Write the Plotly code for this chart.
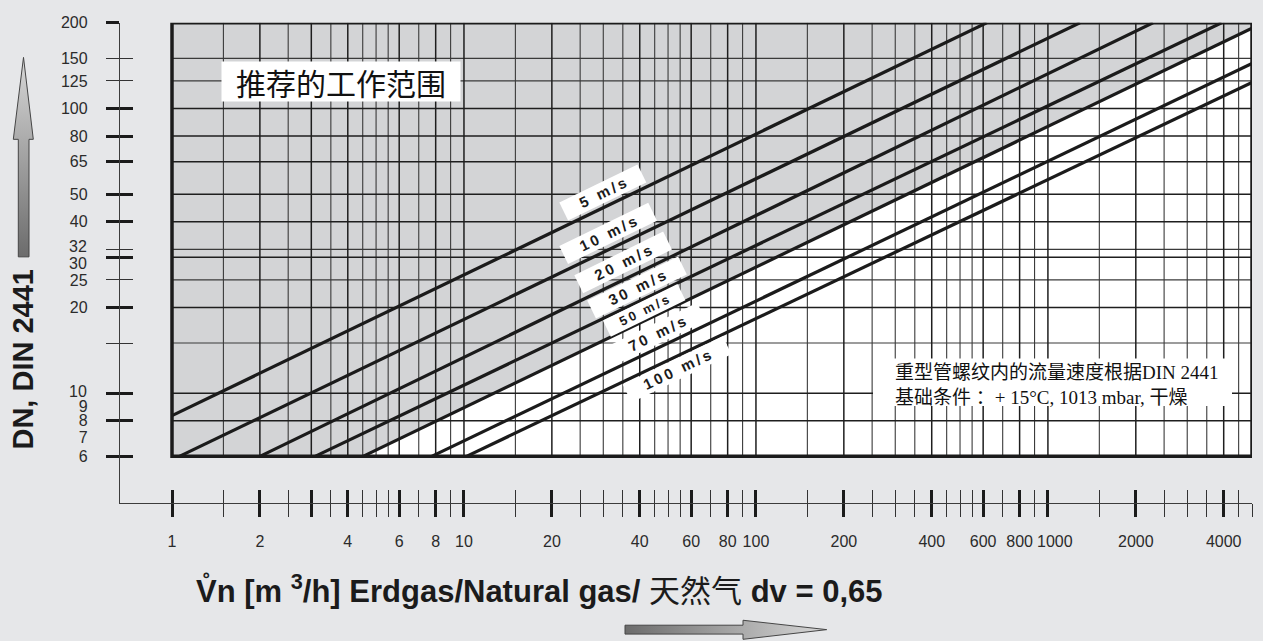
import math
import plotly.graph_objects as go

# ---------------- data ----------------
speed_labels = ["5 m/s", "10 m/s", "20 m/s", "30 m/s", "50 m/s", "70 m/s", "100 m/s"]
flow_start = [1.0, 1.06, 2.0, 3.09, 4.51, 7.75, 10.2]        # m3/h at line start
dn_start = [8.34, 6, 6, 6, 6, 6, 6]                          # DN at line start
flow_end = [617, 1287, 2290, 3934, 5000, 5000, 5000]         # m3/h at line end
dn_end = [200, 200, 200, 200, 191.5, 143.9, 123.4]           # DN at line end
zone_line = 4   # recommended working range lies above the 50 m/s line

x_major_ticks = [1, 2, 3, 4, 6, 8, 10, 20, 40, 60, 80, 100, 200, 400, 600, 800,
                 1000, 2000, 4000]
x_minor_ticks = [1.5, 2.5, 3.5, 4.5, 5, 5.5, 7, 9, 15, 25, 30, 35, 45, 50, 55, 70, 90,
                 150, 250, 300, 350, 450, 500, 550, 700, 900, 1500, 2500, 3000, 3500,
                 4500, 5000]
x_tick_labels = [1, 2, 4, 6, 8, 10, 20, 40, 60, 80, 100, 200, 400, 600, 800, 1000,
                 2000, 4000]

y_major_ticks = [6, 8, 10, 20, 30, 40, 50, 65, 80, 100, 200]
y_minor_ticks = [15, 25, 32, 125, 150]
y_tick_labels = [6, 7, 8, 9, 10, 20, 25, 30, 32, 40, 50, 65, 80, 100, 125, 150, 200]

x_min, x_max = 1, 5000
y_min, y_max = 6, 200

zone_text = "推荐的工作范围"
note_lines = ["重型管螺纹内的流量速度根据DIN 2441", "基础条件 ：+ 15°C, 1013 mbar, 干燥"]
y_title = "DN, DIN 2441"

# ---------------- styling / geometry ----------------
W, H = 1263, 641
AX_LEFT, PLOT_LEFT, PLOT_RIGHT = 120, 172, 1252
PLOT_TOP, PLOT_BOTTOM, AX_BOTTOM = 15, 454, 501


def py(y):
    """paper coordinate for pixel row y"""
    return 1 - y / H


PAGE = "#e6e7e9"
ZONE = "#d3d4d6"
INK = "#1b1b1b"

label_flow = [29.9, 31.1, 35, 39.1, 41.3, 45.8, 53.6]   # where each label sits along its line
label_shift = [15, 17, 18, 15, 11, 15, -13]
label_width = [84, 96, 96, 98, 80, 96, 108]
label_size = [15, 15, 15, 15, 13, 15, 15]
y_label_nudge = {32: 3, 30: -6, 10: 2}
x_label_nudge = {1000: 7}

lx0, lx1 = math.log10(x_min), math.log10(x_max)
ly0, ly1 = math.log10(y_min), math.log10(y_max)
px_dec_x = (PLOT_RIGHT - PLOT_LEFT) / (lx1 - lx0)
px_dec_y = (PLOT_BOTTOM - PLOT_TOP) / (ly1 - ly0)
x_range = [lx0 - (PLOT_LEFT - AX_LEFT) / px_dec_x, lx1]
y_range = [ly0 - (AX_BOTTOM - PLOT_BOTTOM) / px_dec_y, ly1]
x_dom = [AX_LEFT / W, PLOT_RIGHT / W]
y_dom = [py(AX_BOTTOM), py(PLOT_TOP)]

fig = go.Figure()

# recommended working range (grey zone above the 50 m/s line)
fig.add_trace(go.Scatter(
    x=[x_min, flow_start[zone_line], flow_end[zone_line], x_max, x_min],
    y=[y_min, dn_start[zone_line], dn_end[zone_line], y_max, y_max],
    fill="toself", fillcolor=ZONE, mode="lines", line=dict(width=0),
    hoverinfo="skip", showlegend=False))


def grid_segments(xvals, yvals):
    xs, ys = [], []
    for v in xvals:
        if x_min < v < x_max:
            xs += [v, v, None]
            ys += [y_min, y_max, None]
    for v in yvals:
        if y_min < v < y_max:
            xs += [x_min, x_max, None]
            ys += [v, v, None]
    return xs, ys


gx, gy = grid_segments(x_minor_ticks, y_minor_ticks)
fig.add_trace(go.Scatter(x=gx, y=gy, mode="lines", line=dict(color="#3a3a3a", width=1.1),
                         hoverinfo="skip", showlegend=False))
gx, gy = grid_segments(x_major_ticks, y_major_ticks)
fig.add_trace(go.Scatter(x=gx, y=gy, mode="lines", line=dict(color="#1e1e1e", width=1.5),
                         hoverinfo="skip", showlegend=False))

# velocity lines
for i, lab in enumerate(speed_labels):
    fig.add_trace(go.Scatter(x=[flow_start[i], flow_end[i]], y=[dn_start[i], dn_end[i]],
                             mode="lines", line=dict(color=INK, width=3.2), name=lab,
                             hoverinfo="skip", showlegend=False))

# invisible anchors so that the overlaid tick axes get drawn
for xa, ya in [("x2", "y"), ("x3", "y"), ("x", "y2"), ("x", "y3")]:
    fig.add_trace(go.Scatter(x=[x_min], y=[y_min], xaxis=xa, yaxis=ya, mode="markers",
                             marker=dict(opacity=0, size=1), hoverinfo="skip",
                             showlegend=False))

# decorative arrows (pixel-space axes)
fig.add_trace(go.Scatter(
    x=[23.5, 33.3, 29, 29, 18.3, 18.3, 13.3, 23.5],
    y=[50, 133, 133, 252, 252, 133, 133, 50],
    xaxis="x4", yaxis="y4", mode="lines", fill="toself",
    fillgradient=dict(type="vertical", colorscale=[[0, "#6c6c6c"], [1, "#d8d8d8"]]),
    line=dict(color="#454545", width=1), hoverinfo="skip", showlegend=False))
fig.add_trace(go.Scatter(
    x=[625, 743, 743, 826.7, 743, 743, 625, 625],
    y=[625, 625, 620, 629.5, 639.3, 634, 634, 625],
    xaxis="x4", yaxis="y4", mode="lines", fill="toself",
    fillgradient=dict(type="horizontal", colorscale=[[0, "#6c6c6c"], [1, "#d8d8d8"]]),
    line=dict(color="#454545", width=1), hoverinfo="skip", showlegend=False))

tickfont = dict(family="Liberation Sans, Arial, sans-serif", size=16, color="#2b2b2b")
common_x = dict(type="log", range=x_range, domain=x_dom, showgrid=False, zeroline=False,
                fixedrange=True, anchor="y")
common_y = dict(type="log", range=y_range, domain=y_dom, showgrid=False, zeroline=False,
                fixedrange=True, anchor="x")


def tick_axis(common, direction, major, minor):
    return dict(**common, showline=False, ticks=direction, ticklen=13, tickwidth=3,
                tickcolor=INK, tickmode="array", tickvals=major, showticklabels=False,
                minor=dict(tickmode="array", tickvals=minor, ticks=direction, ticklen=13,
                           tickwidth=1.4, tickcolor="#333333", showgrid=False))


y_lab_vals = [v for v in y_tick_labels if v not in y_label_nudge]
x_lab_vals = [v for v in x_tick_labels if v not in x_label_nudge]

shapes = [
    dict(type="rect", xref="x", yref="y", x0=x_min, x1=x_max, y0=y_min, y1=y_max,
         fillcolor="white", line=dict(width=0), layer="below"),
    dict(type="rect", xref="paper", yref="paper", x0=873 / W, x1=1232 / W,
         y0=py(403), y1=py(355), fillcolor="white", line=dict(width=0),
         layer="above"),
    dict(type="rect", xref="x", yref="y", x0=x_min, x1=x_max, y0=y_min, y1=y_max,
         line=dict(color=INK, width=3.5), layer="above"),
]

annotations = []
for i, lab in enumerate(speed_labels):
    lq0, lq1 = math.log10(flow_start[i]), math.log10(flow_end[i])
    ld0, ld1 = math.log10(dn_start[i]), math.log10(dn_end[i])
    lq = math.log10(label_flow[i])
    ld = ld0 + (lq - lq0) / (lq1 - lq0) * (ld1 - ld0)
    ang = math.degrees(math.atan(((ld1 - ld0) * px_dec_y) / ((lq1 - lq0) * px_dec_x)))
    txt = "\u2009".join(list(lab))
    annotations.append(dict(
        xref="x", yref="y", x=lq, y=ld, yshift=label_shift[i], showarrow=False,
        xanchor="center", yanchor="middle",
        text="<b>" + txt + "</b>", textangle=-ang, bgcolor="white", borderpad=1,
        width=label_width[i],
        font=dict(family="Liberation Sans, Arial, sans-serif", size=label_size[i], color=INK)))

for v, dy in y_label_nudge.items():
    annotations.append(dict(xref="paper", yref="y", x=89 / W, y=math.log10(v), yshift=dy,
                            xanchor="right", yanchor="middle", showarrow=False,
                            text=str(v), font=tickfont))
for v, dx in x_label_nudge.items():
    annotations.append(dict(xref="x", yref="paper", x=math.log10(v), y=py(540.5), xshift=dx,
                            xanchor="center", yanchor="middle", showarrow=False,
                            text=str(v), font=tickfont))

annotations += [
    dict(xref="paper", yref="paper", x=341 / W, y=py(74.5), xanchor="center",
         yanchor="middle", showarrow=False,
         text=zone_text, bgcolor="white", borderpad=2, width=234, height=35,
         font=dict(family="Noto Sans CJK SC", size=30, color="#111")),
    dict(xref="paper", yref="paper", x=893 / W, y=py(382), xanchor="left",
         yanchor="middle", showarrow=False, align="left",
         text="<br>".join(note_lines),
         font=dict(family="Liberation Serif, Noto Sans CJK SC, serif", size=19, color="#111")),
    dict(xref="paper", yref="paper", x=23 / W, y=py(356), xanchor="center",
         yanchor="middle", showarrow=False,
         textangle=-90, text="<b>" + y_title + "</b>",
         font=dict(family="Liberation Sans, Arial, sans-serif", size=29, color=INK)),
    dict(xref="paper", yref="paper", x=194 / W, y=py(588), xanchor="left",
         yanchor="middle", showarrow=False,
         text="<b>V\u030An [m <sup>3</sup>/h] Erdgas/Natural gas/</b> "
              "<span style='font-family:Noto Sans CJK SC'>天然气</span> <b>dv = 0,65</b>",
         font=dict(family="Liberation Sans, Arial, sans-serif", size=31, color=INK)),
]

fig.update_layout(
    width=W, height=H, autosize=False,
    margin=dict(l=0, r=0, t=0, b=0),
    paper_bgcolor=PAGE, plot_bgcolor="rgba(0,0,0,0)",
    showlegend=False,
    xaxis=dict(**common_x, showline=True, linecolor="#3c3c3c", linewidth=1.3, ticks="",
               tickmode="array", tickvals=x_lab_vals,
               ticktext=[str(v) for v in x_lab_vals], tickfont=tickfont, tickangle=0,
               ticklabelstandoff=24),
    xaxis2=dict(**tick_axis(common_x, "outside", x_major_ticks, x_minor_ticks), overlaying="x"),
    xaxis3=dict(**tick_axis(common_x, "inside", x_major_ticks, x_minor_ticks), overlaying="x"),
    yaxis=dict(**common_y, showline=True, linecolor="#3c3c3c", linewidth=1.3, ticks="",
               tickmode="array", tickvals=y_lab_vals, ticktext=[str(v) for v in y_lab_vals],
               tickfont=tickfont, ticklabelstandoff=28),
    yaxis2=dict(**tick_axis(common_y, "outside", y_major_ticks, y_minor_ticks), overlaying="y"),
    yaxis3=dict(**tick_axis(common_y, "inside", y_major_ticks, y_minor_ticks), overlaying="y"),
    xaxis4=dict(domain=[0, 1], range=[0, W], visible=False, anchor="y4", fixedrange=True),
    yaxis4=dict(domain=[0, 1], range=[H, 0], visible=False, anchor="x4", fixedrange=True),
    shapes=shapes,
    annotations=annotations,
)

fig.write_html(
    "out.html", config={"displayModeBar": False},
    post_script=(
        "document.documentElement.style.margin='0';"
        "document.body.style.margin='0';document.body.style.padding='0';"
        "document.body.style.overflow='hidden';"
        "var g=document.getElementById('{plot_id}');"
        "g.style.position='absolute';g.style.top='0px';g.style.left='0px';"
    ))
